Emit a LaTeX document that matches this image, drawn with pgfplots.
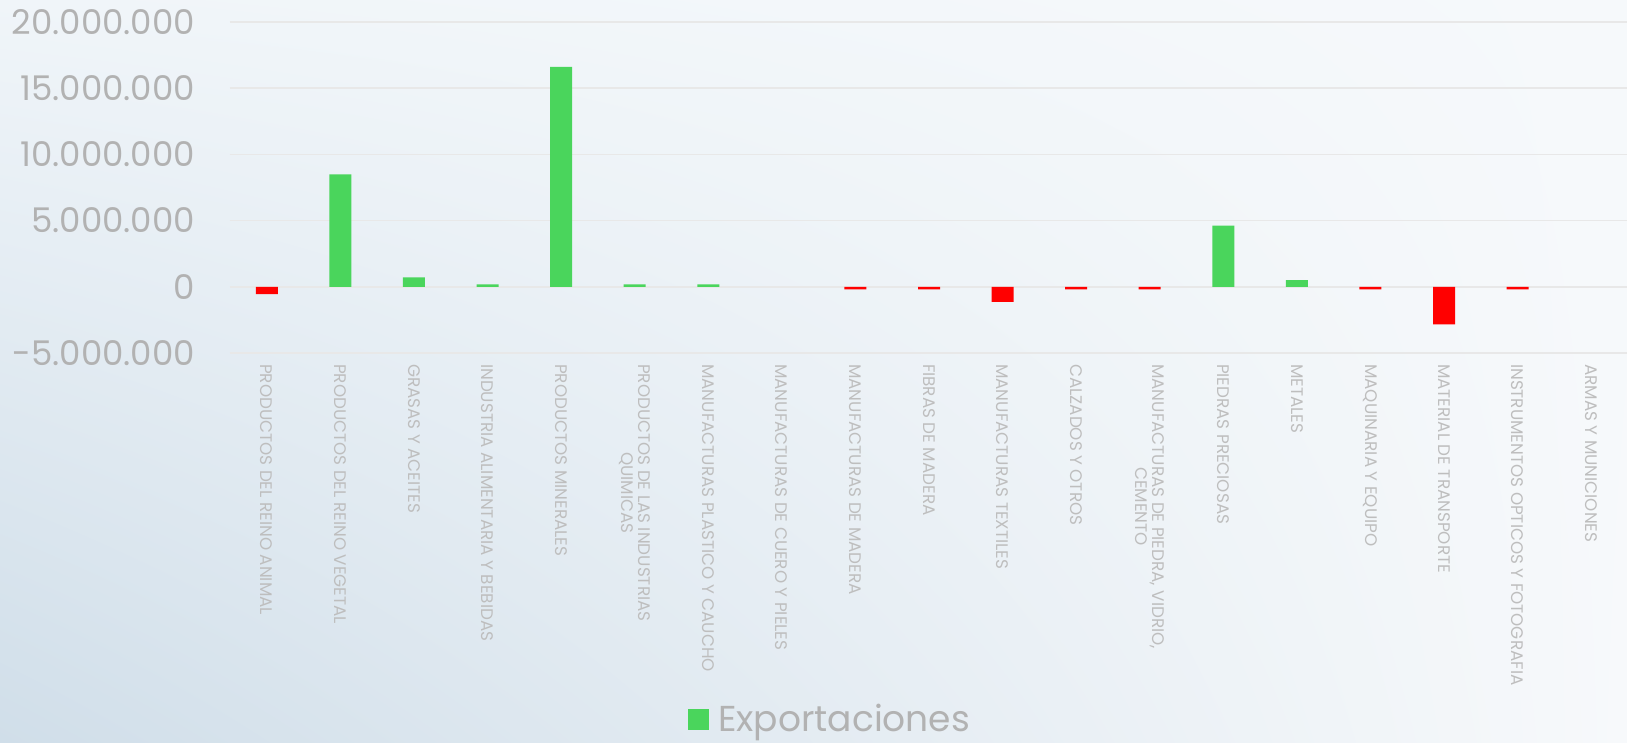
\documentclass[border=0pt]{standalone}
\usepackage{pgfplots}
\pgfplotsset{compat=1.18}
\usetikzlibrary{shadings}
\usepackage{fontspec}
\setmainfont{Poppins}
\definecolor{barGreen}{RGB}{74,213,92}
\definecolor{barRed}{RGB}{255,0,0}
\definecolor{tickGray}{RGB}{178,178,178}
\definecolor{labGray}{RGB}{190,190,190}
\definecolor{gridGray}{RGB}{232,232,232}
\definecolor{bgUL}{RGB}{240,245,249}
\definecolor{bgUR}{RGB}{246,249,251}
\definecolor{bgLL}{RGB}{208,222,233}
\definecolor{bgLR}{RGB}{247,249,251}
\begin{document}
\begin{tikzpicture}
\useasboundingbox (-115pt,-195pt) rectangle (698.5pt,176.5pt);
\shade[upper left=bgUL, upper right=bgUR, lower left=bgLL, lower right=bgLR] (-115pt,-195pt) rectangle (698.5pt,176.5pt);
\begin{axis}[
  at={(0,0)}, anchor=south west,
  scale only axis,
  width=699pt, height=165.5pt,
  xmin=-0.5, xmax=18.5,
  ymin=-5000000, ymax=20000000,
  ytick={-5000000,0,5000000,10000000,15000000,20000000},
  scaled y ticks=false,
  yticklabel={\pgfmathprintnumber[fixed, precision=0, 1000 sep={.}, assume math mode=true]{\tick}},
  axis line style={draw=none},
  major tick length=0pt,
  ymajorgrids,
  grid style={gridGray, line width=0.8pt},
  y tick label style={text=tickGray, font=\fontsize{17}{20}\selectfont, xshift=-14pt},
  xtick={0,...,18},
  xticklabels={
    PRODUCTOS DEL REINO ANIMAL,
    PRODUCTOS DEL REINO VEGETAL,
    GRASAS Y ACEITES,
    INDUSTRIA ALIMENTARIA Y BEBIDAS,
    PRODUCTOS MINERALES,
    {PRODUCTOS DE LAS INDUSTRIAS\\QUIMICAS},
    MANUFACTURAS PLASTICO Y CAUCHO,
    MANUFACTURAS DE CUERO Y PIELES,
    MANUFACTURAS DE MADERA,
    FIBRAS DE MADERA,
    MANUFACTURAS TEXTILES,
    CALZADOS Y OTROS,
    {MANUFACTURAS DE PIEDRA, VIDRIO,\\CEMENTO},
    PIEDRAS PRECIOSAS,
    METALES,
    MAQUINARIA Y EQUIPO,
    MATERIAL DE TRANSPORTE,
    INSTRUMENTOS OPTICOS Y FOTOGRAFIA,
    ARMAS Y MUNICIONES},
  x tick label style={rotate=-90, anchor=west, align=center, text=labGray,
    font=\fontsize{8.4}{8.8}\selectfont, xshift=2pt},
  ybar, bar width=11pt, bar shift=0pt,
  legend style={at={(0.43,-1.106)}, anchor=center, draw=none, fill=none,
    text=tickGray, font=\fontsize{18}{20}\selectfont},
  legend image code/.code={\fill[#1] (0pt,-5.25pt) rectangle (10.5pt,5.25pt);},
  legend cell align=left,
]
\addplot[fill=barGreen, draw=none] coordinates {
  (1,8490000) (2,720000) (3,180000) (4,16620000) (5,180000) (6,180000)
  (13,4620000) (14,510000)
};
\addlegendentry{\hspace{2.5pt}Exportaciones}
\addplot[fill=barRed, draw=none, forget plot] coordinates {
  (0,-550000) (8,-200000) (9,-200000) (10,-1140000) (11,-200000) (12,-200000)
  (15,-200000) (16,-2840000) (17,-200000)
};
\end{axis}
\end{tikzpicture}
\end{document}
